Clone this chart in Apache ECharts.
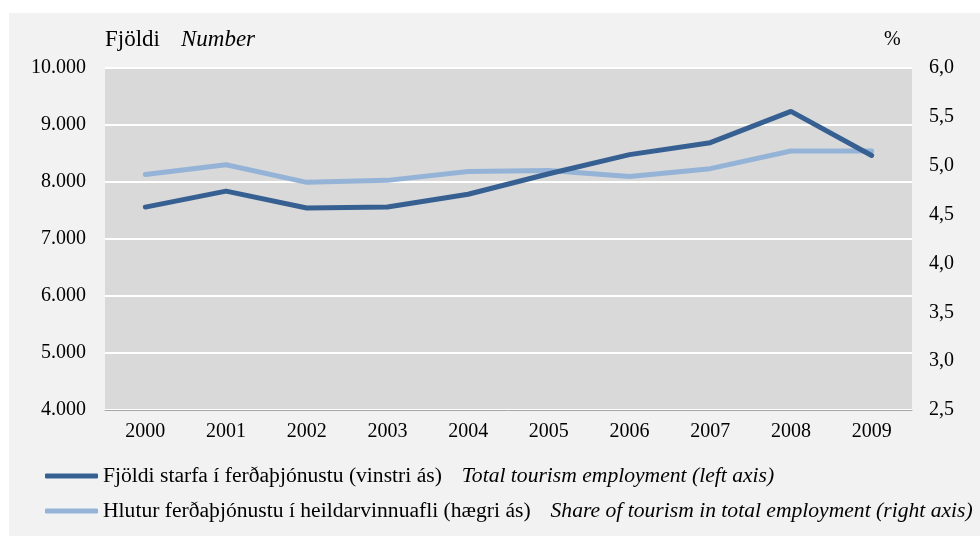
<!DOCTYPE html>
<html>
<head>
<meta charset="utf-8">
<script src="https://cdn.jsdelivr.net/npm/echarts@6/dist/echarts.min.js"></script>
<style>
html,body{margin:0;padding:0;background:#ffffff;}
#chart{width:980px;height:536px;}
</style>
</head>
<body>
<div id="chart"></div>
<script>
const years = ['2000','2001','2002','2003','2004','2005','2006','2007','2008','2009'];
const employment = [7560, 7840, 7545, 7560, 7785, 8145, 8480, 8690, 9240, 8465];
const share = [4.91, 5.01, 4.83, 4.85, 4.94, 4.95, 4.89, 4.97, 5.15, 5.15];
const employmentName = ['Fjöldi starfa í ferðaþjónustu (vinstri ás)', 'Total tourism employment (left axis)'];
const shareName = ['Hlutur ferðaþjónustu í heildarvinnuafli (hægri ás)', 'Share of tourism in total employment (right axis)'];

const FONT = '"Liberation Serif", "Times New Roman", serif';
const chart = echarts.init(document.getElementById('chart'));
const fmtThousands = v => String(v).replace(/\B(?=(\d{3})+(?!\d))/g, '.');
const fmtComma = v => v.toFixed(1).replace('.', ',');

chart.setOption({
  backgroundColor: '#ffffff',
  animation: false,
  graphic: [
    {type: 'rect', left: 9, top: 13, shape: {width: 971, height: 523}, style: {fill: '#f2f2f2'}, z: -10},
    {type: 'text', left: 105, top: 28, style: {text: '{a|Fjöldi}{b|Number}', rich: {
      a: {fontFamily: FONT, fontSize: 23, fill: '#000'},
      b: {fontFamily: FONT, fontSize: 23, fontStyle: 'italic', fill: '#000', padding: [0,0,0,21]}}}},
    {type: 'text', left: 884, top: 30, style: {text: '%', fontFamily: FONT, fontSize: 20, fill: '#000'}}
  ],
  grid: {left: 105, right: 68, top: 68, bottom: 126, containLabel: false, show: true, backgroundColor: '#d9d9d9', borderWidth: 0},
  legend: {
    orient: 'vertical', left: 45, top: 465, itemGap: 13, padding: 0,
    itemWidth: 53, itemHeight: 5, icon: 'roundRect',
    formatter: name => {
      const p = name === employmentName[0] ? employmentName : shareName;
      return '{a|' + p[0] + '}{b|' + p[1] + '}';
    },
    textStyle: {fontFamily: FONT, fontSize: 21.6, color: '#000', rich: {
      a: {fontFamily: FONT, fontSize: 21.6, color: '#000'},
      b: {fontFamily: FONT, fontSize: 21.6, fontStyle: 'italic', color: '#000', padding: [0,0,0,20]}}},
    data: [employmentName[0], shareName[0]]
  },
  xAxis: {
    type: 'category', data: years, boundaryGap: true,
    axisLine: {lineStyle: {color: '#a6a6a6', width: 1}},
    axisTick: {show: false},
    axisLabel: {fontFamily: FONT, fontSize: 20, color: '#000', margin: 12}
  },
  yAxis: [
    {type: 'value', min: 4000, max: 10000, interval: 1000,
     axisLine: {show: false}, axisTick: {show: false},
     splitLine: {lineStyle: {color: '#ffffff', width: 2}},
     axisLabel: {fontFamily: FONT, fontSize: 20, color: '#000', margin: 19, formatter: fmtThousands}},
    {type: 'value', min: 2.5, max: 6.0, interval: 0.5,
     axisLine: {show: false}, axisTick: {show: false}, splitLine: {show: false},
     axisLabel: {fontFamily: FONT, fontSize: 20, color: '#000', margin: 17, formatter: fmtComma}}
  ],
  series: [
    {name: employmentName[0], type: 'line', yAxisIndex: 0, data: employment,
     showSymbol: false, symbol: 'none', lineStyle: {color: '#376092', width: 5, cap: 'round'},
     itemStyle: {color: '#376092'}, z: 3},
    {name: shareName[0], type: 'line', yAxisIndex: 1, data: share,
     showSymbol: false, symbol: 'none', lineStyle: {color: '#95b3d7', width: 5, cap: 'round'},
     itemStyle: {color: '#95b3d7'}, z: 2}
  ]
});
</script>
</body>
</html>
